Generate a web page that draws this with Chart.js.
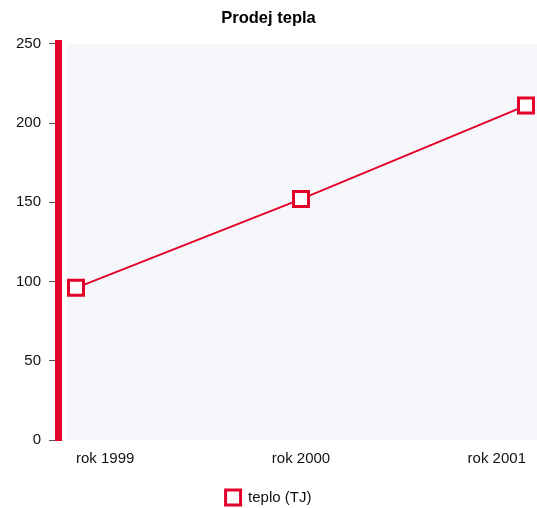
<!DOCTYPE html>
<html>
<head>
<meta charset="utf-8">
<script src="https://cdn.jsdelivr.net/npm/chart.js@4"></script>
<style>
  html, body { margin: 0; padding: 0; background: #fff; }
  #wrap { width: 537px; height: 508px; }
</style>
</head>
<body>
<div id="wrap"><canvas id="chart"></canvas></div>
<script>
const years = ["rok 1999", "rok 2000", "rok 2001"];
const heat = [96, 152, 211];
const yTicks = [0, 50, 100, 150, 200, 250];

const red = "#e2002a";
const font = { family: "Liberation Sans", size: 15 };

// light plot background, leaving a thin white gap next to the red axis
const plotBg = {
  id: "plotBg",
  beforeDraw(c) {
    const a = c.chartArea;
    const x0 = c.scales.y.right + 9;
    c.ctx.save();
    c.ctx.fillStyle = "#f6f7fb";
    c.ctx.fillRect(x0, a.top, a.right - x0, a.bottom - a.top);
    c.ctx.restore();
  }
};

new Chart(document.getElementById("chart"), {
  type: "line",
  data: {
    datasets: [{
      label: "teplo (TJ)",
      data: heat.map((v, i) => ({ x: i, y: v })),
      borderColor: red,
      backgroundColor: "#fff",
      borderWidth: 2,
      pointStyle: "rect",
      pointRadius: 10.6,
      pointBorderWidth: 3,
      pointBorderColor: red,
      pointBackgroundColor: "#fff",
      tension: 0
    }]
  },
  options: {
    responsive: true,
    maintainAspectRatio: false,
    animation: false,
    layout: { autoPadding: false, padding: { top: 0, right: 0, left: 0, bottom: -7 } },
    plugins: {
      title: {
        display: true,
        text: "Prodej tepla",
        color: "#000",
        font: { family: "Liberation Sans", size: 16.5, weight: "bold" },
        padding: { top: 9, bottom: 15 }
      },
      legend: {
        position: "bottom",
        labels: {
          usePointStyle: true,
          pointStyle: "rect",
          boxWidth: 16,
          boxHeight: 16,
          color: "#111",
          font: font,
          padding: 6
        }
      },
      tooltip: { enabled: false }
    },
    scales: {
      x: {
        type: "linear",
        min: -0.08,
        max: 2.049,
        afterBuildTicks: s => { s.ticks = years.map((_, i) => ({ value: i })); },
        afterFit: s => { s.paddingLeft = 0; s.paddingRight = 0; s.height = 44; },
        ticks: {
          align: "inner",
          callback: v => years[v],
          color: "#111",
          font: font,
          padding: 2
        },
        grid: { display: false },
        border: { display: false }
      },
      y: {
        min: 0,
        max: 250,
        afterBuildTicks: s => { s.ticks = yTicks.map(v => ({ value: v })); },
        afterFit: s => { s.width = 58; },
        ticks: {
          color: "#111",
          font: font,
          padding: 8
        },
        grid: { drawOnChartArea: false, color: "#555", tickLength: 9, tickWidth: 1 },
        border: { color: red, width: 7 }
      }
    }
  },
  plugins: [plotBg]
});
</script>
</body>
</html>
